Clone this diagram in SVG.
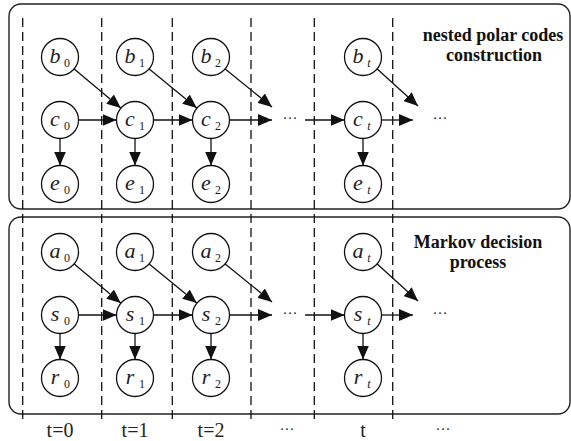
<svg xmlns="http://www.w3.org/2000/svg" width="571" height="441" viewBox="0 0 571 441">
<style>
.box{fill:none;stroke:#222;stroke-width:1.4}
.dash{fill:none;stroke:#111;stroke-width:1.3;stroke-dasharray:9 5}
.node circle{fill:#fff;stroke:#111;stroke-width:1.3}
.var{font-family:"Liberation Serif",serif;font-style:italic;font-size:22px;fill:#222;text-anchor:middle}
.sub{font-family:"Liberation Serif",serif;font-size:12px;fill:#222;text-anchor:middle}
.subi{font-family:"Liberation Serif",serif;font-style:italic;font-size:12px;fill:#222;text-anchor:middle}
.arr{fill:none;stroke:#111;stroke-width:1.3;marker-end:url(#ah)}
.dots{font-family:"Liberation Serif",serif;font-size:15px;fill:#222;text-anchor:middle}
.title{font-family:"Liberation Serif",serif;font-weight:bold;font-size:18px;fill:#111;text-anchor:middle}
.tl{font-family:"Liberation Serif",serif;font-size:20px;fill:#222;text-anchor:middle}
</style>
<defs>
<marker id="ah" markerUnits="userSpaceOnUse" markerWidth="15" markerHeight="12" refX="14" refY="6" orient="auto">
<path d="M0,0 L14,6 L0,12 z" fill="#111"/>
</marker>
</defs>
<rect class="box" x="9" y="4" width="561" height="205" rx="12"/>
<rect class="box" x="9" y="217" width="561" height="197" rx="12"/>
<g id="timelines">
<line class="dash" x1="22.7" y1="18" x2="22.7" y2="424"/>
<line class="dash" x1="101.7" y1="18" x2="101.7" y2="424"/>
<line class="dash" x1="172.3" y1="18" x2="172.3" y2="424"/>
<line class="dash" x1="251" y1="18" x2="251" y2="424"/>
<line class="dash" x1="314.3" y1="18" x2="314.3" y2="424"/>
<line class="dash" x1="392.7" y1="18" x2="392.7" y2="424"/>
</g>
<g id="connectors">
<path class="arr" d="M74.2,68.9 L120.8,108.1"/>
<path class="arr" d="M149.2,68.9 L196.8,108.1"/>
<path class="arr" d="M225.2,68.9 L272,107"/>
<path class="arr" d="M377.2,68.9 L418,106"/>
<path class="arr" d="M78.5,120 L116.5,120"/>
<path class="arr" d="M153.5,120 L192.5,120"/>
<path class="arr" d="M229.5,120 L272,120"/>
<path class="arr" d="M305,120 L344.5,120"/>
<path class="arr" d="M381.5,120 L413,120"/>
<path class="arr" d="M60,138.5 L60,165.5"/>
<path class="arr" d="M135,138.5 L135,165.5"/>
<path class="arr" d="M211,138.5 L211,165.5"/>
<path class="arr" d="M363,138.5 L363,165.5"/>
<path class="arr" d="M74.2,263.9 L120.8,303.1"/>
<path class="arr" d="M149.2,263.9 L196.8,303.1"/>
<path class="arr" d="M225.2,263.9 L272,302"/>
<path class="arr" d="M377.2,263.9 L418,301"/>
<path class="arr" d="M78.5,315 L116.5,315"/>
<path class="arr" d="M153.5,315 L192.5,315"/>
<path class="arr" d="M229.5,315 L272,315"/>
<path class="arr" d="M305,315 L344.5,315"/>
<path class="arr" d="M381.5,315 L413,315"/>
<path class="arr" d="M60,333.5 L60,359.5"/>
<path class="arr" d="M135,333.5 L135,359.5"/>
<path class="arr" d="M211,333.5 L211,359.5"/>
<path class="arr" d="M363,333.5 L363,359.5"/>
</g>
<g id="b0" class="node"><circle cx="60" cy="57" r="18.5"/><text class="var" x="55" y="63">b</text><text class="sub" x="67" y="67">0</text></g>
<g id="b1" class="node"><circle cx="135" cy="57" r="18.5"/><text class="var" x="130" y="63">b</text><text class="sub" x="142" y="67">1</text></g>
<g id="b2" class="node"><circle cx="211" cy="57" r="18.5"/><text class="var" x="206" y="63">b</text><text class="sub" x="218" y="67">2</text></g>
<g id="bt" class="node"><circle cx="363" cy="57" r="18.5"/><text class="var" x="358" y="63">b</text><text class="subi" x="369" y="67">t</text></g>
<g id="c0" class="node"><circle cx="60" cy="120" r="18.5"/><text class="var" x="55" y="126">c</text><text class="sub" x="67" y="130">0</text></g>
<g id="c1" class="node"><circle cx="135" cy="120" r="18.5"/><text class="var" x="130" y="126">c</text><text class="sub" x="142" y="130">1</text></g>
<g id="c2" class="node"><circle cx="211" cy="120" r="18.5"/><text class="var" x="206" y="126">c</text><text class="sub" x="218" y="130">2</text></g>
<g id="ct" class="node"><circle cx="363" cy="120" r="18.5"/><text class="var" x="358" y="126">c</text><text class="subi" x="369" y="130">t</text></g>
<g id="e0" class="node"><circle cx="60" cy="184" r="18.5"/><text class="var" x="55" y="190">e</text><text class="sub" x="67" y="194">0</text></g>
<g id="e1" class="node"><circle cx="135" cy="184" r="18.5"/><text class="var" x="130" y="190">e</text><text class="sub" x="142" y="194">1</text></g>
<g id="e2" class="node"><circle cx="211" cy="184" r="18.5"/><text class="var" x="206" y="190">e</text><text class="sub" x="218" y="194">2</text></g>
<g id="et" class="node"><circle cx="363" cy="184" r="18.5"/><text class="var" x="358" y="190">e</text><text class="subi" x="369" y="194">t</text></g>
<g id="a0" class="node"><circle cx="60" cy="252" r="18.5"/><text class="var" x="55" y="258">a</text><text class="sub" x="67" y="262">0</text></g>
<g id="a1" class="node"><circle cx="135" cy="252" r="18.5"/><text class="var" x="130" y="258">a</text><text class="sub" x="142" y="262">1</text></g>
<g id="a2" class="node"><circle cx="211" cy="252" r="18.5"/><text class="var" x="206" y="258">a</text><text class="sub" x="218" y="262">2</text></g>
<g id="at" class="node"><circle cx="363" cy="252" r="18.5"/><text class="var" x="358" y="258">a</text><text class="subi" x="369" y="262">t</text></g>
<g id="s0" class="node"><circle cx="60" cy="315" r="18.5"/><text class="var" x="55" y="321">s</text><text class="sub" x="67" y="325">0</text></g>
<g id="s1" class="node"><circle cx="135" cy="315" r="18.5"/><text class="var" x="130" y="321">s</text><text class="sub" x="142" y="325">1</text></g>
<g id="s2" class="node"><circle cx="211" cy="315" r="18.5"/><text class="var" x="206" y="321">s</text><text class="sub" x="218" y="325">2</text></g>
<g id="st" class="node"><circle cx="363" cy="315" r="18.5"/><text class="var" x="358" y="321">s</text><text class="subi" x="369" y="325">t</text></g>
<g id="r0" class="node"><circle cx="60" cy="378" r="18.5"/><text class="var" x="55" y="384">r</text><text class="sub" x="67" y="388">0</text></g>
<g id="r1" class="node"><circle cx="135" cy="378" r="18.5"/><text class="var" x="130" y="384">r</text><text class="sub" x="142" y="388">1</text></g>
<g id="r2" class="node"><circle cx="211" cy="378" r="18.5"/><text class="var" x="206" y="384">r</text><text class="sub" x="218" y="388">2</text></g>
<g id="rt" class="node"><circle cx="363" cy="378" r="18.5"/><text class="var" x="358" y="384">r</text><text class="subi" x="369" y="388">t</text></g>
<g id="labels">
<text class="dots" x="290" y="123">···</text>
<text class="dots" x="440" y="123">···</text>
<text class="dots" x="290" y="318">···</text>
<text class="dots" x="440" y="318">···</text>
<text class="title" x="493" y="41">nested polar codes</text>
<text class="title" x="494" y="61">construction</text>
<text class="title" x="478" y="248">Markov decision</text>
<text class="title" x="478" y="268">process</text>
<text class="tl" x="60" y="437">t=0</text>
<text class="tl" x="135" y="437">t=1</text>
<text class="tl" x="211" y="437">t=2</text>
<text class="dots" x="287" y="434">···</text>
<text class="tl" x="363" y="437">t</text>
<text class="dots" x="443" y="434">···</text>
</g>
</svg>
